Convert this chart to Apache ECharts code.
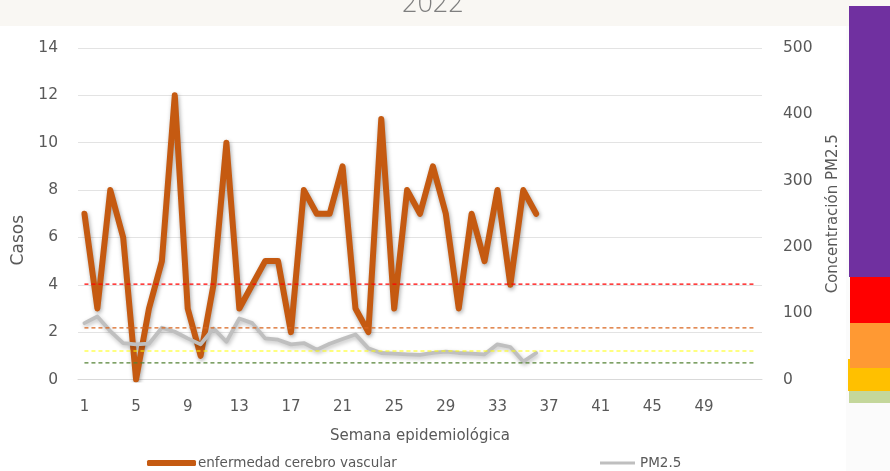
<!DOCTYPE html>
<html>
<head>
<meta charset="utf-8">
<script src="https://cdn.jsdelivr.net/npm/echarts@6/dist/echarts.min.js"></script>
<style>
  html, body { margin: 0; padding: 0; background: #ffffff; }
  #chart { width: 890px; height: 471px; }
</style>
</head>
<body>
<div id="chart"></div>
<script>
// Epidemiological weeks (the trailing empty slot leaves room after week 52)
const weeks = ['1','2','3','4','5','6','7','8','9','10','11','12','13','14','15','16','17','18',
  '19','20','21','22','23','24','25','26','27','28','29','30','31','32','33','34','35','36',
  '37','38','39','40','41','42','43','44','45','46','47','48','49','50','51','52',''];

// Weekly cases of cerebrovascular disease, 2022
const casos = [7,3,8,6,0,3,5,12,3,1,4,10,3,4,5,5,2,8,7,7,9,3,2,11,3,8,7,9,7,3,7,5,8,4,8,7];

// Weekly PM2.5 concentration
const pm25 = [85,95,73,55,53,54,78,72,62,53,77,57,92,85,62,60,53,55,45,54,61,68,47,40,39,38,37,40,42,40,39,38,53,49,27,40];

// PM2.5 reference levels drawn as dashed lines
const niveles = [144, 78, 43, 25];
const nivelColores = ['#ff0000', '#d9661f', '#ffff00', '#548235'];

const chart = echarts.init(document.getElementById('chart'), null, { renderer: 'canvas' });

const FONT = 'DejaVu Sans';
const TXT = '#595959';

const nivelSeries = niveles.map((v, i) => ({
  name: 'nivel' + i,
  type: 'line',
  yAxisIndex: 1,
  data: weeks.map(() => v),
  symbol: 'none',
  silent: true,
  z: 5,
  lineStyle: { color: nivelColores[i], width: 1.2, type: [4, 3] }
}));

chart.setOption({
  animation: false,
  backgroundColor: '#ffffff',
  title: {
    text: '2022',
    left: 397,
    top: -14,
    textStyle: { fontFamily: 'Open Sans', fontWeight: 300, fontSize: 27, color: '#7f7f7f' }
  },
  grid: { left: 78, right: 128, top: 48, bottom: 91.5, containLabel: false },
  legend: [
    {
      data: ['enfermedad cerebro vascular'],
      left: 142, top: 451,
      icon: 'roundRect', itemWidth: 49, itemHeight: 6, itemGap: 0,
      textStyle: { fontFamily: FONT, fontSize: 13.5, color: TXT, padding: [0, 0, 0, -3] }
    },
    {
      data: ['PM2.5'],
      left: 595, top: 451,
      icon: 'rect', itemWidth: 35, itemHeight: 3, itemGap: 0,
      textStyle: { fontFamily: FONT, fontSize: 13.5, color: TXT }
    }
  ],
  xAxis: {
    type: 'category',
    data: weeks,
    boundaryGap: true,
    name: 'Semana epidemiológica',
    nameLocation: 'middle',
    nameGap: 49,
    nameTextStyle: { fontFamily: FONT, fontSize: 15, color: TXT },
    axisLine: { show: true, lineStyle: { color: '#d9d9d9', width: 1 } },
    axisTick: { show: false },
    axisLabel: { interval: 3, margin: 20, fontFamily: FONT, fontSize: 15, color: TXT },
    splitLine: { show: false }
  },
  yAxis: [
    {
      type: 'value',
      min: 0, max: 14, interval: 2,
      axisLine: { show: false },
      axisTick: { show: false },
      axisLabel: { margin: 20, fontFamily: FONT, fontSize: 15.5, color: TXT },
      splitLine: { show: true, lineStyle: { color: '#e3e3e3', width: 1 } }
    },
    {
      type: 'value',
      min: 0, max: 500, interval: 100,
      name: 'Concentración PM2.5',
      nameLocation: 'middle',
      nameGap: 64,
      nameRotate: 90,
      nameTextStyle: { fontFamily: FONT, fontSize: 15, color: TXT },
      axisLine: { show: false },
      axisTick: { show: false },
      axisLabel: { margin: 21, fontFamily: FONT, fontSize: 15.5, color: TXT },
      splitLine: { show: false }
    }
  ],
  graphic: [
    // faint band behind the title
    { type: 'rect', left: 0, top: 0, shape: { width: 890, height: 26 }, style: { fill: '#f9f7f3' }, z: -10 },
    { type: 'rect', left: 846, top: 26, shape: { width: 44, height: 445 }, style: { fill: '#fbfbfb' }, z: -10 },
    // axis title on the left
    {
      type: 'text', left: 10, top: 215, rotation: Math.PI / 2,
      style: { text: 'Casos', fontFamily: FONT, fontSize: 17, fill: TXT },
      z: 10
    },
    // colour scale for air quality on the right
    { type: 'rect', left: 849, top: 6, shape: { width: 41, height: 271 }, style: { fill: '#7030a0' } },
    { type: 'rect', left: 848, top: 359, shape: { width: 42, height: 32 }, style: { fill: '#ffc000' } },
    { type: 'rect', left: 850, top: 277, shape: { width: 40, height: 46 }, style: { fill: '#ff0000' } },
    { type: 'rect', left: 850, top: 323, shape: { width: 40, height: 45 }, style: { fill: '#ff9933' } },
    { type: 'rect', left: 849, top: 391, shape: { width: 41, height: 12 }, style: { fill: '#c4d79b' } }
  ],
  series: [
    {
      name: 'enfermedad cerebro vascular',
      type: 'line',
      yAxisIndex: 0,
      data: casos,
      symbol: 'none',
      z: 3,
      itemStyle: { color: '#c55a11' },
      lineStyle: {
        color: '#c55a11', width: 6, cap: 'round', join: 'round',
        shadowColor: 'rgba(0,0,0,0.35)', shadowBlur: 4, shadowOffsetX: 1, shadowOffsetY: 2
      }
    },
    {
      name: 'PM2.5',
      type: 'line',
      yAxisIndex: 1,
      data: pm25,
      symbol: 'none',
      z: 4,
      itemStyle: { color: '#bfbfbf' },
      lineStyle: {
        color: '#bfbfbf', width: 3.8, cap: 'round', join: 'round',
        shadowColor: 'rgba(0,0,0,0.25)', shadowBlur: 4, shadowOffsetX: 1, shadowOffsetY: 2
      }
    }
  ].concat(nivelSeries)
});
</script>
</body>
</html>
